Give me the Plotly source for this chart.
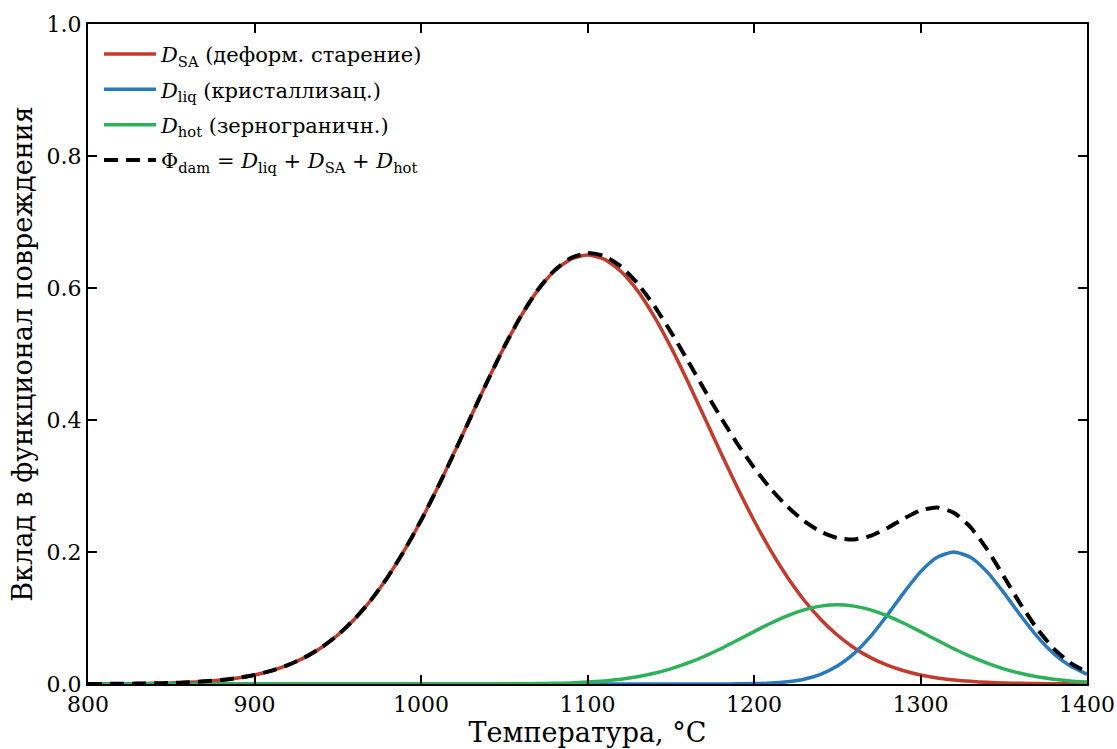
import plotly.graph_objects as go

# Temperature grid (°C) and values
temperature = [800, 810, 820, 830, 840, 850, 860, 870, 880, 890,
               900, 910, 920, 930, 940, 950, 960, 970, 980, 990,
               1000, 1010, 1020, 1030, 1040, 1050, 1060, 1070, 1080, 1090,
               1100, 1110, 1120, 1130, 1140, 1150, 1160, 1170, 1180, 1190,
               1200, 1210, 1220, 1230, 1240, 1250, 1260, 1270, 1280, 1290,
               1300, 1310, 1320, 1330, 1340, 1350, 1360, 1370, 1380, 1390,
               1400]

d_sa = [0.0001, 0.0002, 0.0003, 0.0006, 0.0010, 0.0016, 0.0025, 0.0040, 0.0061, 0.0092,
        0.0137, 0.0200, 0.0286, 0.0400, 0.0550, 0.0742, 0.0982, 0.1273, 0.1621, 0.2024,
        0.2478, 0.2976, 0.3506, 0.4052, 0.4594, 0.5108, 0.5571, 0.5960, 0.6254, 0.6438,
        0.6500, 0.6438, 0.6254, 0.5960, 0.5571, 0.5108, 0.4594, 0.4052, 0.3506, 0.2976,
        0.2478, 0.2024, 0.1621, 0.1273, 0.0982, 0.0742, 0.0550, 0.0400, 0.0286, 0.0200,
        0.0137, 0.0092, 0.0061, 0.0040, 0.0025, 0.0016, 0.0010, 0.0006, 0.0003, 0.0002,
        0.0001]

d_liq = [0, 0, 0, 0, 0, 0, 0, 0, 0, 0,
         0, 0, 0, 0, 0, 0, 0, 0, 0, 0,
         0, 0, 0, 0, 0, 0, 0, 0, 0, 0,
         0, 0, 0, 0, 0, 0, 0, 0.00002, 0.00007, 0.0002,
         0.0006, 0.0014, 0.0034, 0.0073, 0.0147, 0.0271, 0.0460, 0.0721, 0.1041, 0.1385,
         0.1699, 0.1920, 0.2000, 0.1920, 0.1699, 0.1385, 0.1041, 0.0721, 0.0460, 0.0271,
         0.0147]

d_hot = [0, 0, 0, 0, 0, 0, 0, 0, 0, 0,
         0, 0, 0, 0, 0, 0, 0, 0, 0, 0,
         0, 0, 0, 0, 0, 0.0002, 0.0003, 0.0006, 0.0010, 0.0017,
         0.0029, 0.0047, 0.0073, 0.0111, 0.0162, 0.0230, 0.0315, 0.0417, 0.0534, 0.0662,
         0.0794, 0.0921, 0.1034, 0.1123, 0.1180, 0.1200, 0.1180, 0.1123, 0.1034, 0.0921,
         0.0794, 0.0662, 0.0534, 0.0417, 0.0315, 0.0230, 0.0162, 0.0111, 0.0073, 0.0047,
         0.0029]

phi_dam = [0.0001, 0.0002, 0.0003, 0.0006, 0.0010, 0.0016, 0.0025, 0.0040, 0.0061, 0.0092,
           0.0137, 0.0200, 0.0286, 0.0400, 0.0550, 0.0742, 0.0982, 0.1273, 0.1621, 0.2024,
           0.2478, 0.2976, 0.3506, 0.4052, 0.4594, 0.5110, 0.5574, 0.5966, 0.6264, 0.6455,
           0.6529, 0.6485, 0.6327, 0.6071, 0.5733, 0.5338, 0.4909, 0.4469, 0.4041, 0.3640,
           0.3278, 0.2959, 0.2689, 0.2469, 0.2309, 0.2213, 0.2190, 0.2244, 0.2361, 0.2506,
           0.2630, 0.2674, 0.2595, 0.2377, 0.2039, 0.1631, 0.1213, 0.0838, 0.0536, 0.0320,
           0.0177]

x_ticks = [800, 900, 1000, 1100, 1200, 1300, 1400]
y_ticks = [0.0, 0.2, 0.4, 0.6, 0.8, 1.0]

names = [
    "<i>D</i><sub>SA</sub> (деформ. старение)",
    "<i>D</i><sub>liq</sub> (кристаллизац.)",
    "<i>D</i><sub>hot</sub> (зернограничн.)",
    "Φ<sub>dam</sub> = <i>D</i><sub>liq</sub> + <i>D</i><sub>SA</sub> + <i>D</i><sub>hot</sub>",
]
colors = ["#c23b2c", "#2a79ba", "#2db25a", "#000000"]
series = [d_sa, d_liq, d_hot, phi_dam]

FONT = "DejaVu Serif"

fig = go.Figure()
for i, (name, color, ys) in enumerate(zip(names, colors, series)):
    dashed = i == 3
    fig.add_trace(go.Scatter(
        x=temperature, y=ys, mode="lines", name=name,
        legendgroup=f"g{i}",
        line=dict(color=color, width=4 if dashed else 3.5,
                  dash="14px,8px" if dashed else "solid", shape="spline",
                  smoothing=0.6),
    ))

axis_common = dict(
    showline=True, linecolor="black", linewidth=2, mirror="allticks",
    ticks="inside", ticklen=9, tickwidth=2, tickcolor="black",
    showgrid=False, zeroline=False, automargin=False,
    tickfont=dict(family=FONT, size=22, color="black"),
)

fig.update_layout(
    width=1117, height=749,
    margin=dict(l=88, r=30, t=24, b=65),
    paper_bgcolor="white", plot_bgcolor="white",
    font=dict(family=FONT, color="black"),
    showlegend=True,
    legend=dict(
        x=0.011, y=0.985, xanchor="left", yanchor="top",
        bgcolor="rgba(255,255,255,0)", borderwidth=0,
        font=dict(family=FONT, size=21, color="black"),
        tracegroupgap=5, itemwidth=52,
    ),
    xaxis=dict(
        range=[800, 1400], tickvals=x_ticks, ticktext=[str(v) for v in x_ticks],
        title=dict(text="Температура, °C", font=dict(family=FONT, size=27), standoff=6),
        **axis_common,
    ),
    yaxis=dict(
        range=[0, 1], tickvals=y_ticks, ticktext=[f"{v:.1f}" for v in y_ticks],
        title=dict(text="Вклад в функционал повреждения", font=dict(family=FONT, size=27), standoff=6),
        **axis_common,
    ),
)

fig.write_html("out.html")
